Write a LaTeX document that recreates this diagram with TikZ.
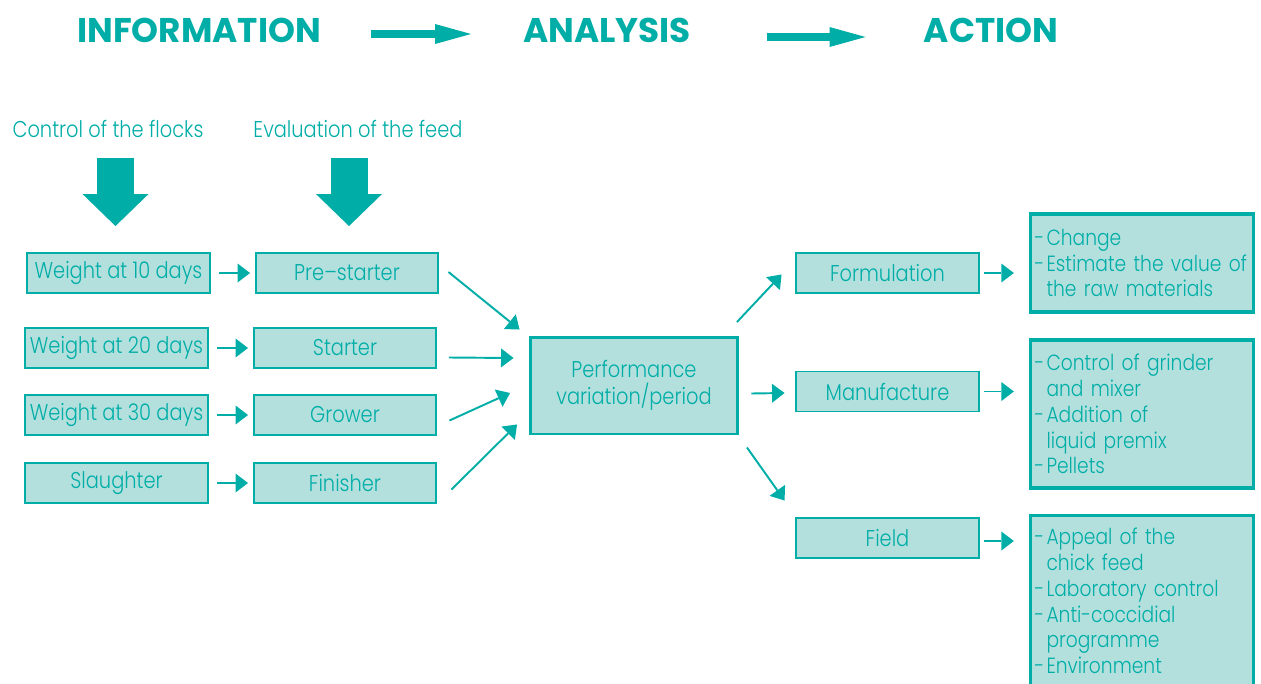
\documentclass[tikz,border=0pt]{standalone}
\usepackage{fontspec}
\setmainfont{Poppins}[UprightFont=* Light, FakeStretch=0.85]
\newfontfamily\headfont{Poppins}[UprightFont=* Bold]
\usetikzlibrary{arrows.meta}

\definecolor{flowteal}{HTML}{00ADA7}
\definecolor{flowfill}{HTML}{B3E0DD}

\def\dsh{\makebox[0.24cm][l]{-}}
\def\ind{\hspace*{0.24cm}}

\tikzset{
  box/.style={draw=flowteal, fill=flowfill, line width=1.1pt, text=flowteal,
    minimum height=0.8cm, inner sep=0pt, font=\fontsize{13}{15}\selectfont},
  bigbox/.style={box, line width=1.7pt, align=center, font=\fontsize{13}{15.3}\selectfont},
  listbox/.style={box, line width=1.9pt, align=left, text width=4.3cm, inner xsep=0.08cm,
    font=\fontsize{12.5}{14.7}\selectfont},
  stage/.style={text=flowteal, inner sep=0pt, font=\headfont\fontsize{19.5}{22}\selectfont},
  source/.style={text=flowteal, inner sep=0pt, font=\fontsize{13}{15}\selectfont},
  link/.style={draw=flowteal, line width=1.1pt,
    -{Triangle[length=0.25cm,width=0.38cm,line width=0pt]}},
  stagearrow/.style={draw=flowteal, line width=0.15cm,
    -{Triangle[length=0.72cm,width=0.4cm,line width=0pt]}},
  fatarrow/.style={draw=flowteal, line width=0.74cm,
    -{Triangle[length=0.64cm,width=1.32cm,line width=0pt]}},
}

\begin{document}
\begin{tikzpicture}[x=0.02cm, y=-0.02cm]
  \useasboundingbox (0,0) rectangle (1261,683);

  % stages
  \node[stage] (info) at (199,30) {INFORMATION};
  \node[stage] (anal) at (607,30) {ANALYSIS};
  \node[stage] (act) at (991,30) {ACTION};
  \draw[stagearrow, shorten <=3.44cm, shorten >=2.72cm]
    ([yshift=-0.08cm]info.center) -- ([yshift=-0.08cm]anal.center);
  \draw[stagearrow, shorten <=3.2cm, shorten >=2.51cm]
    ([yshift=-0.14cm]anal.center) -- ([yshift=-0.14cm]act.center);

  % information
  \node[source] (flocks) at (108,129) {Control of the flocks};
  \node[source] (feed) at (358,129) {Evaluation of the feed};

  \node[box, minimum width=3.66cm] (w10) at (118.5,273) {Weight at 10 days};
  \node[box, minimum width=3.64cm] (pre) at (347,273) {Pre--starter};
  \node[box, minimum width=3.66cm] (w20) at (116.5,348) {Weight at 20 days};
  \node[box, minimum width=3.64cm] (starter) at (345,348) {Starter};
  \node[box, minimum width=3.66cm] (w30) at (116.5,415) {Weight at 30 days};
  \node[box, minimum width=3.64cm] (grower) at (345,415) {Grower};
  \node[box, minimum width=3.66cm] (slaughter) at (116.5,483) {Slaughter};
  \node[box, minimum width=3.64cm] (finisher) at (345,483) {Finisher};

  \draw[fatarrow, shorten <=0.4cm, shorten >=0.52cm] ([xshift=-0.06cm]w10.north |- flocks.south) -- ([xshift=-0.06cm]w10.north);
  \draw[fatarrow, shorten <=0.4cm, shorten >=0.52cm] ([xshift=0.04cm]pre.north |- feed.south) -- ([xshift=0.04cm]pre.north);

  \draw[link, shorten <=0.16cm, shorten >=0.1cm] (w10) -- (pre);
  \draw[link, shorten <=0.16cm, shorten >=0.1cm] (w20) -- (starter);
  \draw[link, shorten <=0.16cm, shorten >=0.1cm] (w30) -- (grower);
  \draw[link, shorten <=0.16cm, shorten >=0.1cm] (slaughter) -- (finisher);

  % analysis
  \node[bigbox, minimum width=4.16cm, minimum height=1.94cm] (perf) at (634,385.5)
    {Performance\\variation/period};

  \draw[link] ([xshift=0.19cm,yshift=0.02cm]pre.east) -- ([xshift=-0.18cm,yshift=0.12cm]perf.north west);
  \draw[link] ([xshift=0.24cm,yshift=-0.19cm]starter.east) -- ([xshift=-0.3cm,yshift=0.55cm]perf.west);
  \draw[link] ([xshift=0.25cm,yshift=-0.11cm]grower.east) -- ([xshift=-0.37cm,yshift=-0.15cm]perf.west);
  \draw[link] ([xshift=0.29cm,yshift=-0.13cm]finisher.east) -- ([xshift=-0.23cm,yshift=0.22cm]perf.south west);

  % action
  \node[box, minimum width=3.66cm] (form) at (887.5,273) {Formulation};
  \node[box, minimum width=3.66cm] (manu) at (887.5,391.5) {Manufacture};
  \node[box, minimum width=3.66cm] (field) at (887.5,538) {Field};

  \draw[link] ([xshift=-0.05cm,yshift=0.27cm]perf.north east) -- ([xshift=-0.27cm,yshift=-0.03cm]form.west);
  \draw[link] ([xshift=0.24cm,yshift=-0.16cm]perf.east) -- ([xshift=-0.21cm,yshift=-0.03cm]manu.west);
  \draw[link] ([xshift=0.15cm,yshift=-0.24cm]perf.south east) -- ([xshift=-0.21cm,yshift=0.33cm]field.north west);

  \node[listbox, minimum height=1.96cm] (change) at (1142,263)
    {\dsh Change\\\dsh Estimate the value of\\\ind the raw materials};
  \node[listbox, minimum height=2.96cm] (mill) at (1142,414)
    {\dsh Control of grinder\\\ind and mixer\\\dsh Addition of\\\ind liquid premix\\\dsh Pellets};
  \node[listbox, minimum height=3.42cm] (farm) at (1142,601)
    {\dsh Appeal of the\\\ind chick feed\\\dsh Laboratory control\\\dsh Anti-coccidial\\\ind programme\\\dsh Environment};

  \draw[link, shorten <=0.08cm, shorten >=0.3cm] (form.east) -- (form.east -| change.west);
  \draw[link, shorten <=0.08cm, shorten >=0.3cm] (manu.east) -- (manu.east -| mill.west);
  \draw[link, shorten <=0.08cm, shorten >=0.3cm] ([yshift=-0.06cm]field.east) -- ([yshift=-0.06cm]field.east -| farm.west);
\end{tikzpicture}
\end{document}
